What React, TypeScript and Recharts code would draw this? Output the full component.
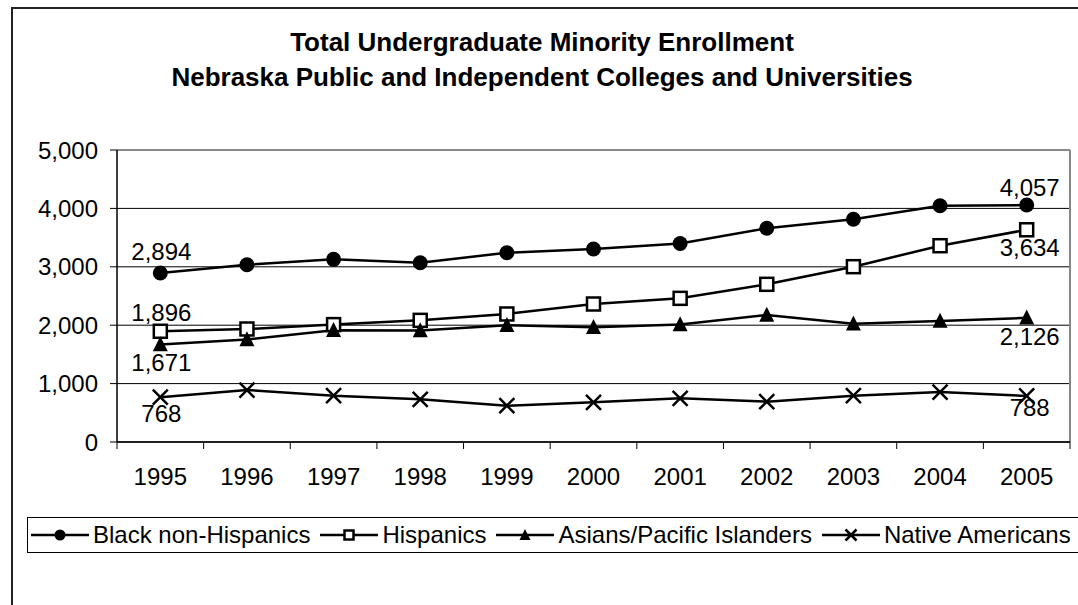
import React from "react"
import { LineChart, Line, XAxis, YAxis, CartesianGrid } from "recharts"

const years = ["1995", "1996", "1997", "1998", "1999", "2000", "2001", "2002", "2003", "2004", "2005"]
const blackNonHispanics = [2894, 3035, 3128, 3070, 3241, 3305, 3400, 3659, 3813, 4046, 4057]
const hispanics = [1896, 1935, 2010, 2083, 2192, 2363, 2460, 2700, 3002, 3361, 3634]
const asiansPacific = [1671, 1755, 1915, 1910, 2000, 1965, 2010, 2175, 2025, 2070, 2126]
const nativeAmericans = [768, 890, 793, 731, 622, 680, 748, 690, 794, 855, 788]
const yTicks = [0, 1000, 2000, 3000, 4000, 5000]
const titleLines = [
  "Total Undergraduate Minority Enrollment",
  "Nebraska Public and Independent Colleges and Universities",
]

const data = years.map((year, i) => ({
  year,
  black: blackNonHispanics[i],
  hispanic: hispanics[i],
  asian: asiansPacific[i],
  native: nativeAmericans[i],
}))

const W = 1078
const H = 605
const LEFT = 117
const RIGHT = 8
const TOP = 150
const XAXIS_H = 50
const BOTTOM = 113
const FONT = '"Liberation Sans", Arial, sans-serif'
const band = (W - LEFT - RIGHT) / years.length
const fmt = (v: number) => v.toLocaleString("en-US")

type Shape = "circle" | "square" | "triangle" | "cross"

function Marker({ shape, cx, cy, s }: { shape: Shape; cx: number; cy: number; s: number }) {
  if (shape === "circle") return <circle cx={cx} cy={cy} r={s / 2} fill="#000" />
  if (shape === "square")
    return <rect x={cx - s / 2} y={cy - s / 2} width={s} height={s} fill="#fff" stroke="#000" strokeWidth={2.5} />
  if (shape === "triangle")
    return (
      <path
        d={`M${cx},${cy - s * 0.55}L${cx + s / 2},${cy + s * 0.45}L${cx - s / 2},${cy + s * 0.45}Z`}
        fill="#000"
      />
    )
  return (
    <path
      d={`M${cx - s / 2},${cy - s / 2}L${cx + s / 2},${cy + s / 2}M${cx + s / 2},${cy - s / 2}L${cx - s / 2},${cy + s / 2}`}
      stroke="#000"
      strokeWidth={2.5}
      fill="none"
    />
  )
}

// marker + end labels (first and last year only)
const makeDot = (shape: Shape, key: string, dyFirst: number, dyLast: number) => (props: any) => {
  const { cx, cy, index, payload } = props
  const last = index === years.length - 1
  const showLabel = index === 0 || last
  return (
    <g key={`${key}-${index}`}>
      <Marker shape={shape} cx={cx} cy={cy} s={shape === "square" ? 13 : 15} />
      {showLabel && (
        <text
          x={cx + (last ? 3 : 1)}
          y={cy + (last ? dyLast : dyFirst)}
          textAnchor="middle"
          dominantBaseline="central"
          fontSize={24}
          fontFamily={FONT}
          fill="#000"
        >
          {fmt(payload[key])}
        </text>
      )}
    </g>
  )
}

function XTick(props: any) {
  const { x, y, payload, index } = props
  const last = index === years.length - 1
  return (
    <g>
      <line x1={x - band / 2} x2={x - band / 2} y1={y} y2={y + 7} stroke="#000" />
      {last && <line x1={x + band / 2} x2={x + band / 2} y1={y} y2={y + 7} stroke="#000" />}
      <text x={x} y={y + 34} textAnchor="middle" dominantBaseline="central" fontSize={24} fontFamily={FONT} fill="#000">
        {payload.value}
      </text>
    </g>
  )
}

const series = [
  { key: "black", name: "Black non-Hispanics", shape: "circle" as Shape, dyFirst: -21, dyLast: -18 },
  { key: "hispanic", name: "Hispanics", shape: "square" as Shape, dyFirst: -19, dyLast: 18 },
  { key: "asian", name: "Asians/Pacific Islanders", shape: "triangle" as Shape, dyFirst: 18, dyLast: 19 },
  { key: "native", name: "Native Americans", shape: "cross" as Shape, dyFirst: 16, dyLast: 12 },
]

export default function App() {
  return (
    <div
      style={{
        position: "absolute",
        left: 0,
        top: 0,
        width: W,
        height: H,
        overflow: "hidden",
        background: "#fff",
        fontFamily: FONT,
      }}
    >
      <div
        style={{
          position: "absolute",
          left: 11,
          top: 7,
          width: 1100,
          height: 700,
          border: "2px solid #222",
        }}
      />
      {titleLines.map((t, i) => (
        <div
          key={t}
          style={{
            position: "absolute",
            left: 0,
            width: 1084,
            top: 27 + i * 35,
            lineHeight: "30px",
            fontSize: 26,
            fontWeight: "bold",
            textAlign: "center",
            color: "#000",
          }}
        >
          {t}
        </div>
      ))}
      <div style={{ position: "absolute", left: 0, top: 0 }}>
        <LineChart width={W} height={H} data={data} margin={{ top: TOP, right: RIGHT, bottom: BOTTOM, left: 0 }}>
          <CartesianGrid vertical={false} stroke="#000" strokeWidth={1} />
          <CartesianGrid
            stroke="#888"
            strokeWidth={2}
            horizontalCoordinatesGenerator={({ offset }: any) => [offset.top]}
            verticalCoordinatesGenerator={({ offset }: any) => [offset.left + offset.width]}
          />
          <XAxis
            dataKey="year"
            interval={0}
            padding={{ left: band / 2, right: band / 2 }}
            tickLine={false}
            tickSize={0}
            tickMargin={0}
            height={XAXIS_H}
            axisLine={{ stroke: "#000", strokeWidth: 1.5 }}
            tick={<XTick />}
          />
          <YAxis
            domain={[0, 5000]}
            ticks={yTicks}
            interval={0}
            width={LEFT}
            tickSize={7}
            tickMargin={12}
            tickFormatter={fmt}
            axisLine={{ stroke: "#000", strokeWidth: 1.5 }}
            tickLine={{ stroke: "#000" }}
            tick={{ fill: "#000", fontSize: 24, fontFamily: FONT }}
          />
          {series.map((s) => (
            <Line
              key={s.key}
              dataKey={s.key}
              name={s.name}
              stroke="#000"
              strokeWidth={2.5}
              isAnimationActive={false}
              dot={makeDot(s.shape, s.key, s.dyFirst, s.dyLast)}
              activeDot={false}
            />
          ))}
        </LineChart>
      </div>
      <div
        style={{
          position: "absolute",
          left: 27,
          top: 517,
          width: 1080,
          height: 34,
          border: "1px solid #000",
          display: "flex",
          alignItems: "center",
          paddingLeft: 3,
          boxSizing: "content-box",
          fontSize: 24,
          color: "#000",
          whiteSpace: "nowrap",
        }}
      >
        {series.map((s) => (
          <div key={s.key} style={{ display: "flex", alignItems: "center", marginRight: 10 }}>
            <svg width={58} height={20}>
              <line x1={0} x2={58} y1={10} y2={10} stroke="#000" strokeWidth={2.5} />
              <Marker shape={s.shape} cx={29} cy={10} s={s.shape === "square" ? 9 : 11} />
            </svg>
            <span style={{ marginLeft: 4 }}>{s.name}</span>
          </div>
        ))}
      </div>
    </div>
  )
}
